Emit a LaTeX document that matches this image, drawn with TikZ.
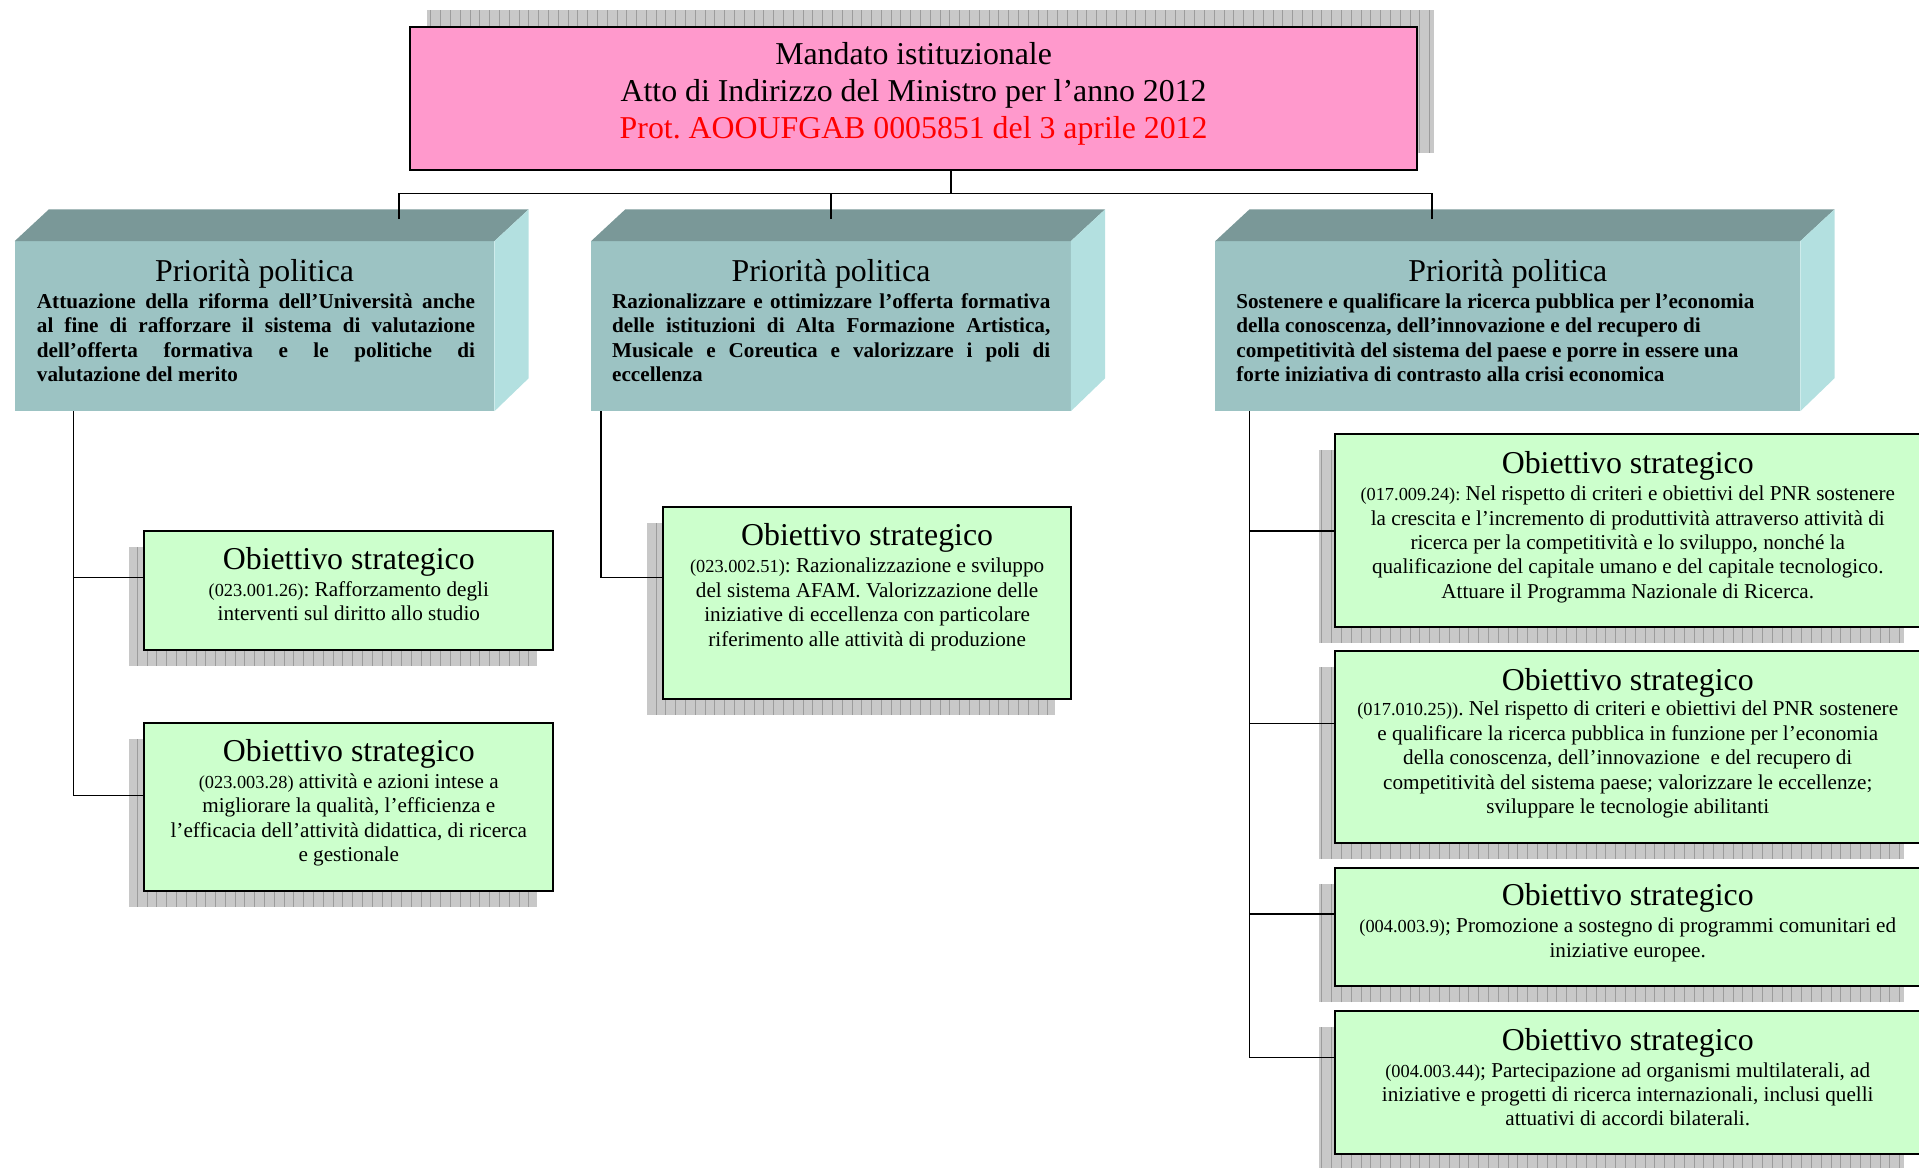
\documentclass[tikz,border=0pt]{standalone}
\usepackage{fontspec}
\setmainfont{Liberation Serif}
\usetikzlibrary{calc,backgrounds}
\frenchspacing

\definecolor{mandpink}{HTML}{FF99CC}
\definecolor{objgreen}{HTML}{CCFFCC}
\definecolor{prifront}{HTML}{9CC3C3}
\definecolor{pritop}{HTML}{7A9898}
\definecolor{priside}{HTML}{B3E0E0}
\definecolor{shadefill}{HTML}{C8C8C8}
\definecolor{shadeline}{HTML}{9C9C9C}

% body text of a box: centred lines, 17.3/20
\newcommand{\objtext}[2]{\parbox[t]{#1}{\centering\frenchspacing\fontsize{17.3}{20}\selectfont #2}}
% smaller code of an objective
\newcommand{\objcode}[1]{{\fontsize{15}{20}\selectfont #1}}
% bold text of a priority
\newcommand{\pritext}[1]{\parbox[t]{460pt}{\raggedright\frenchspacing\fontsize{17.3}{20}\selectfont\bfseries #1}}
\newcommand{\jline}[1]{\makebox[358pt][s]{#1}}
% hatched drop shadow behind a node
\newcommand{\gridshadow}[2]{%
  \fill[shadefill] ($(#1.north west)+#2$) rectangle ($(#1.south east)+#2$);
  \draw[shadeline, line width=0.5pt, step=8] ($(#1.north west)+#2$) grid ($(#1.south east)+#2$);}
% top and side faces of a priority block
\newcommand{\priblock}[1]{%
  \fill[pritop] (#1.north west) -- ++(28,-26) -- ($(#1.north east)+(28,-26)$) -- (#1.north east) -- cycle;
  \fill[priside] (#1.north east) -- ++(28,-26) -- ($(#1.south east)+(28,-27)$) -- (#1.south east) -- cycle;}

\tikzset{
  conn/.style={draw=black, line width=1.3pt},
  mandbox/.style={draw=black, line width=1.5pt, fill=mandpink, anchor=north west, inner sep=0pt, outer sep=0pt},
  pribox/.style={fill=prifront, anchor=north west, inner sep=0pt, outer sep=0pt, minimum height=139pt},
  objbox/.style={draw=black, line width=1.6pt, fill=objgreen, anchor=north west, inner sep=0pt, outer sep=0pt},
  heading/.style={anchor=base, inner sep=0pt, font=\fontsize{26}{30}\selectfont},
  txt/.style={anchor=base, inner sep=0pt},
  txtw/.style={anchor=base west, inner sep=0pt},
}

\begin{document}
\begin{tikzpicture}[x=1pt,y=-1pt]
\useasboundingbox (0,0) rectangle (1568,954);
\clip (0,0) rectangle (1568,954);

% institutional mandate
\node[mandbox, minimum width=823pt, minimum height=117pt] (mand) at (335,22) {};
\node[txt] (mandtxt) at (746.5,53) {\parbox[t]{800pt}{\centering\fontsize{26}{30}\selectfont
  Mandato istituzionale\\
  Atto di Indirizzo del Ministro per l’anno 2012\\
  \textcolor{red}{Prot. AOOUFGAB 0005851 del 3 aprile 2012}}};

% political priorities
\node[pribox, minimum width=392pt] (p1) at (12,197) {};
\node[pribox, minimum width=392pt] (p2) at (483,197) {};
\node[pribox, minimum width=478pt] (p3) at (993,197) {};
\priblock{p1}
\priblock{p2}
\priblock{p3}

\node[heading] (p1h) at (208,230) {Priorità politica};
\node[heading] (p2h) at (679,230) {Priorità politica};
\node[heading] (p3h) at (1232,230) {Priorità politica};

\node[txtw] (p1t) at (30,252) {\pritext{%
  \jline{Attuazione della riforma dell’Università anche}\\
  \jline{al fine di rafforzare il sistema di valutazione}\\
  \jline{dell’offerta formativa e le politiche di}\\
  valutazione del merito}};
\node[txtw] (p2t) at (500,252) {\pritext{%
  \jline{Razionalizzare e ottimizzare l’offerta formativa}\\
  \jline{delle istituzioni di Alta Formazione Artistica,}\\
  \jline{Musicale e Coreutica e valorizzare i poli di}\\
  eccellenza}};
\node[txtw] (p3t) at (1010,252) {\pritext{%
  Sostenere e qualificare la ricerca pubblica per l’economia\\
  della conoscenza, dell’innovazione e del recupero di\\
  competitività del sistema del paese e porre in essere una\\
  forte iniziativa di contrasto alla crisi economica}};

% strategic objectives
\node[objbox, minimum width=334pt, minimum height=97pt] (o1) at (118,434) {};
\node[objbox, minimum width=334pt, minimum height=137pt] (o2) at (118,591) {};
\node[objbox, minimum width=333pt, minimum height=157pt] (o3) at (542,414) {};
\node[objbox, minimum width=478pt, minimum height=157pt] (o4) at (1091,355) {};
\node[objbox, minimum width=478pt, minimum height=157pt] (o5) at (1091,532) {};
\node[objbox, minimum width=478pt, minimum height=97pt] (o6) at (1091,709) {};
\node[objbox, minimum width=478pt, minimum height=117pt] (o7) at (1091,826) {};

\begin{scope}[on background layer]
  \gridshadow{mand}{(14,-14)}
  \gridshadow{o1}{(-13,13)}
  \gridshadow{o2}{(-13,13)}
  \gridshadow{o3}{(-13,13)}
  \gridshadow{o4}{(-13,13)}
  \gridshadow{o5}{(-13,13)}
  \gridshadow{o6}{(-13,13)}
  \gridshadow{o7}{(-13,13)}
\end{scope}

\node[heading] (o1h) at (285,465) {Obiettivo strategico};
\node[txt] (o1t) at (285,487) {\objtext{330pt}{%
  \objcode{(023.001.26)}: Rafforzamento degli\\
  interventi sul diritto allo studio}};

\node[heading] (o2h) at (285,622) {Obiettivo strategico};
\node[txt] (o2t) at (285,644) {\objtext{330pt}{%
  \objcode{(023.003.28)} attività e azioni intese a\\
  migliorare la qualità, l’efficienza e\\
  l’efficacia dell’attività didattica, di ricerca\\
  e gestionale}};

\node[heading] (o3h) at (708.5,446) {Obiettivo strategico};
\node[txt] (o3t) at (708.5,468) {\objtext{329pt}{%
  \objcode{(023.002.51)}: Razionalizzazione e sviluppo\\
  del sistema AFAM. Valorizzazione delle\\
  iniziative di eccellenza con particolare\\
  riferimento alle attività di produzione}};

\node[heading] (o4h) at (1330,387) {Obiettivo strategico};
\node[txt] (o4t) at (1330,409) {\objtext{474pt}{%
  \objcode{(017.009.24):} Nel rispetto di criteri e obiettivi del PNR sostenere\\
  la crescita e l’incremento di produttività attraverso attività di\\
  ricerca per la competitività e lo sviluppo, nonché la\\
  qualificazione del capitale umano e del capitale tecnologico.\\
  Attuare il Programma Nazionale di Ricerca.}};

\node[heading] (o5h) at (1330,564) {Obiettivo strategico};
\node[txt] (o5t) at (1330,585) {\objtext{474pt}{%
  \objcode{(017.010.25))}. Nel rispetto di criteri e obiettivi del PNR sostenere\\
  e qualificare la ricerca pubblica in funzione per l’economia\\
  della conoscenza, dell’innovazione\ \ e del recupero di\\
  competitività del sistema paese; valorizzare le eccellenze;\\
  sviluppare le tecnologie abilitanti}};

\node[heading] (o6h) at (1330,740) {Obiettivo strategico};
\node[txt] (o6t) at (1330,762) {\objtext{474pt}{%
  \objcode{(004.003.9)}; Promozione a sostegno di programmi comunitari ed\\
  iniziative europee.}};

\node[heading] (o7h) at (1330,858) {Obiettivo strategico};
\node[txt] (o7t) at (1330,880) {\objtext{474pt}{%
  \objcode{(004.003.44)}; Partecipazione ad organismi multilaterali, ad\\
  iniziative e progetti di ricerca internazionali, inclusi quelli\\
  attuativi di accordi bilaterali.}};

% mandate to priorities
\coordinate (j) at (777,158);
\coordinate (t1) at (326,179);
\coordinate (t2) at (679,179);
\coordinate (t3) at (1170,179);
\draw[conn] (j |- mand.south) -- (j);
\draw[conn] (t1) -- (t1 |- j) -- (t3 |- j) -- (t3);
\draw[conn] (t2) -- (t2 |- j);

% priorities to objectives
\coordinate (b11) at (60,472);
\coordinate (b12) at (60,650);
\draw[conn] (p1.south -| b11) -- (b12) -- (b12 -| o2.west);
\draw[conn] (b11) -- (b11 -| o1.west);

\coordinate (b21) at (491,472);
\draw[conn] (p2.south -| b21) -- (b21) -- (b21 -| o3.west);

\coordinate (b31) at (1021,434);
\coordinate (b32) at (1021,591);
\coordinate (b33) at (1021,747);
\coordinate (b34) at (1021,864);
\draw[conn] (p3.south -| b31) -- (b34) -- (b34 -| o7.west);
\draw[conn] (b31) -- (b31 -| o4.west);
\draw[conn] (b32) -- (b32 -| o5.west);
\draw[conn] (b33) -- (b33 -| o6.west);
\end{tikzpicture}
\end{document}
